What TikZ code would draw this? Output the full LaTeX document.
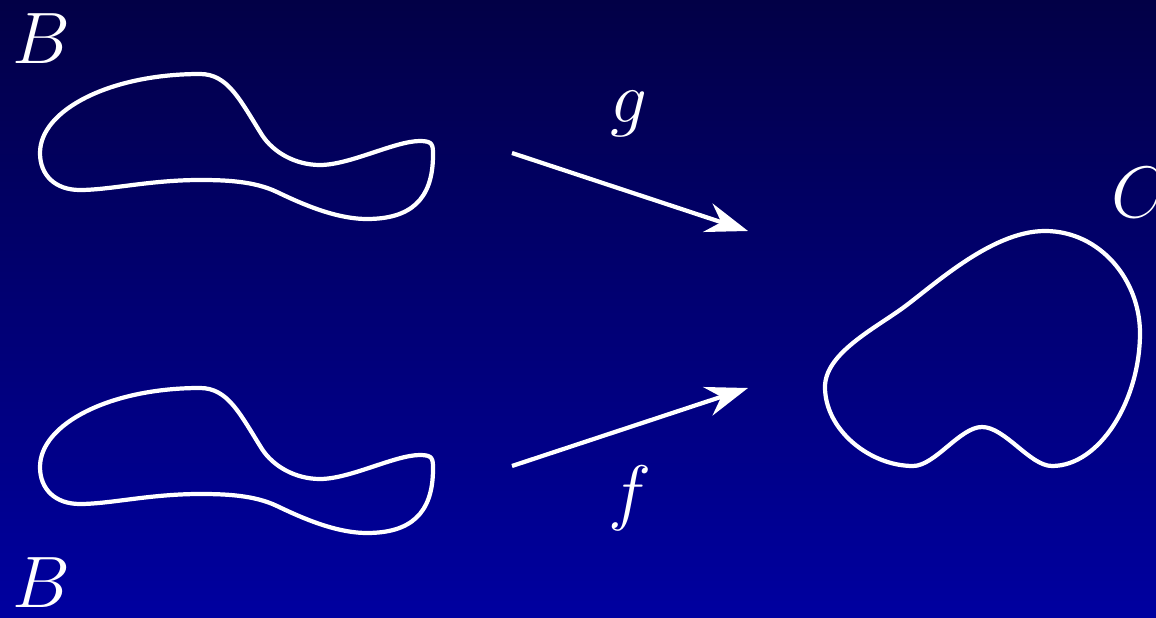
\documentclass[tikz,border=0pt]{standalone}
\usepackage{xcolor}
\usepackage{tikz}
\usetikzlibrary{arrows.meta}

\definecolor{bgtop}{RGB}{2,0,70}
\definecolor{bgbottom}{RGB}{0,0,160}

\begin{document}
\begin{tikzpicture}[
    x=0.01cm, y=-0.01cm,
    outline/.style={draw=white, line width=1.2pt},
    maparrow/.style={draw=white, line width=1.2pt,
        -{Stealth[length=12pt, width=8.5pt, inset=4pt]}},
    setlabel/.style={text=white, inner sep=0pt, font=\fontsize{20.8}{25}\selectfont},
    setB/.pic={
        \draw[outline] (40,153) .. controls (40,110) and (110,74) .. (200,74)
            .. controls (228,74) and (240,100) .. (262,135)
            .. controls (273,152) and (295,165) .. (320,165)
            .. controls (350,165) and (395,141) .. (420,141)
            .. controls (433,141) and (433,145) .. (433,155)
            .. controls (433,200) and (410,219) .. (367,219)
            .. controls (335,219) and (300,203) .. (277,192)
            .. controls (254,181) and (225,180) .. (200,180)
            .. controls (150,180) and (110,190) .. (80,190)
            .. controls (55,190) and (40,175) .. (40,153) -- cycle;
    }
]
% --- background ---
\shade[top color=bgtop, bottom color=bgbottom] (0,0) rectangle (1156,618);
\clip (0,0) rectangle (1156,618);

% --- the two copies of B (left) ---
\pic at (0,0) {setB};
\pic at (0,314) {setB};
\node[setlabel] (Btop) at (41,39) {$B$};
\node[setlabel] (Bbot) at (41,583) {$B$};

% --- C (right) ---
\draw[outline] (825,387) .. controls (825,355) and (870,331) .. (900,310)
    .. controls (930,289) and (990,231) .. (1045,231)
    .. controls (1100,231) and (1140,280) .. (1140,333)
    .. controls (1140,400) and (1100,466) .. (1052,466)
    .. controls (1030,466) and (1005,427) .. (982,427)
    .. controls (960,427) and (935,466) .. (913,466)
    .. controls (870,466) and (825,430) .. (825,387) -- cycle;
\node[setlabel] (Clabel) at (1140,193) {$C$};

% --- maps g and f ---
\coordinate (gstart) at (512,153);
\coordinate (gend) at (748,231);
\coordinate (fstart) at (512,466);
\coordinate (fend) at (748,388);
\draw[maparrow] (gstart) -- (gend);
\draw[maparrow] (fstart) -- (fend);
\node[setlabel] (glabel) at (629,114) {$g$};
\node[setlabel] (flabel) at (630,498) {$f$};

\end{tikzpicture}
\end{document}
